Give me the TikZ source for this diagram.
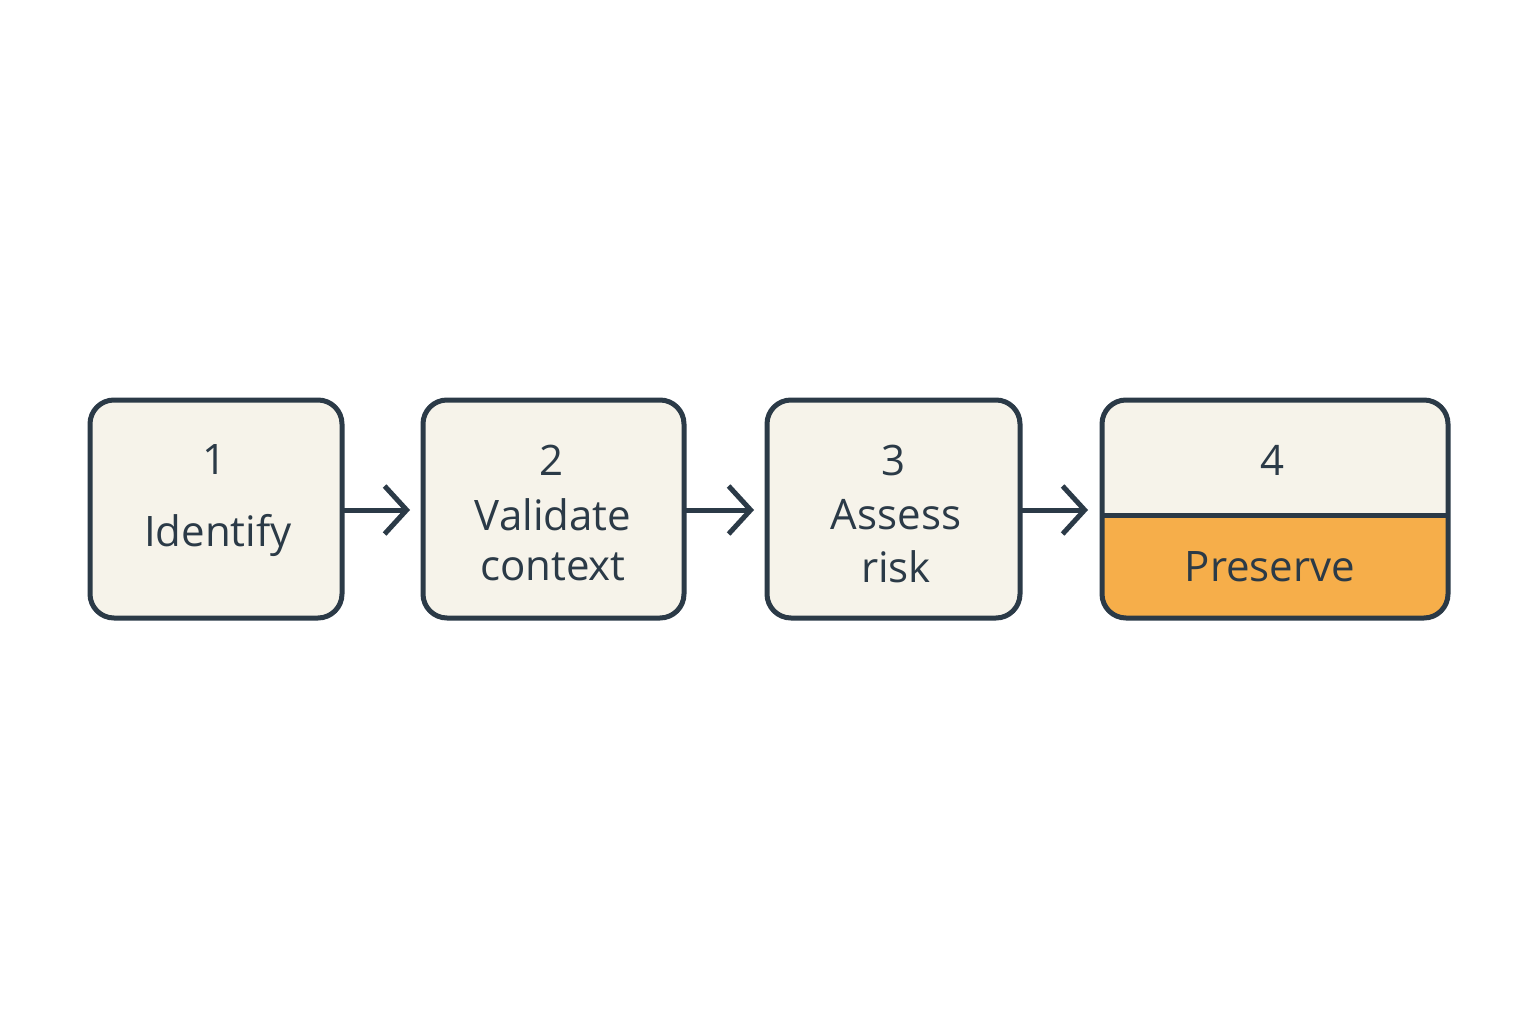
\documentclass[tikz,border=0pt]{standalone}
\usepackage{fontspec}
\setmainfont{Open Sans}
\usetikzlibrary{arrows.meta}
\definecolor{ink}{HTML}{2B3A47}
\definecolor{cream}{HTML}{F6F3EA}
\definecolor{orng}{HTML}{F6AE4A}
\tikzset{
  stepbox/.style={draw=ink,line width=5pt,fill=cream,rounded corners=24pt},
  lbl/.style={text=ink,font=\fontsize{42}{46}\selectfont,inner sep=0pt},
  conn/.style={draw=ink,line width=5pt,-{Straight Barb[length=22pt,width=48pt,line width=5pt]}}
}
\begin{document}
\begin{tikzpicture}[x=1pt,y=-1pt]
\useasboundingbox[fill=white] (0,0) rectangle (1536,1024);
\path[stepbox] (90,400) rectangle (342,618);
\path[stepbox] (423,400) rectangle (684,618);
\path[stepbox] (767,400) rectangle (1020,618);
\begin{scope}
\clip[rounded corners=24pt] (1102,400) rectangle (1448,618);
\fill[cream] (1102,400) rectangle (1448,515);
\fill[orng] (1102,515) rectangle (1448,618);
\end{scope}
\draw[ink,line width=5pt,rounded corners=24pt] (1102,400) rectangle (1448,618);
\draw[ink,line width=5pt] (1102,515) -- (1448,515);
\coordinate (b1) at (342,510); \coordinate (b2) at (423,510);
\coordinate (c1) at (684,510); \coordinate (c2) at (767,510);
\coordinate (d1) at (1020,510); \coordinate (d2) at (1102,510);
\path[conn] (b1) -- (410,510);
\path[conn] (c1) -- (754,510);
\path[conn] (d1) -- (1088,510);
\node[lbl] (n1) at (215,460) {1};
\node[lbl] (t1) at (218,535) {Identify};
\node[lbl] (n2) at (552,460) {2};
\node[lbl] (t2a) at (553,515) {Validate};
\node[lbl] (t2b) at (553,567) {context};
\node[lbl] (n3) at (893,460) {3};
\node[lbl] (t3a) at (896,515) {Assess};
\node[lbl] (t3b) at (896,567) {risk};
\node[lbl] (n4) at (1272,460) {4};
\node[lbl] (t4) at (1270,567) {Preserve};
\end{tikzpicture}
\end{document}
